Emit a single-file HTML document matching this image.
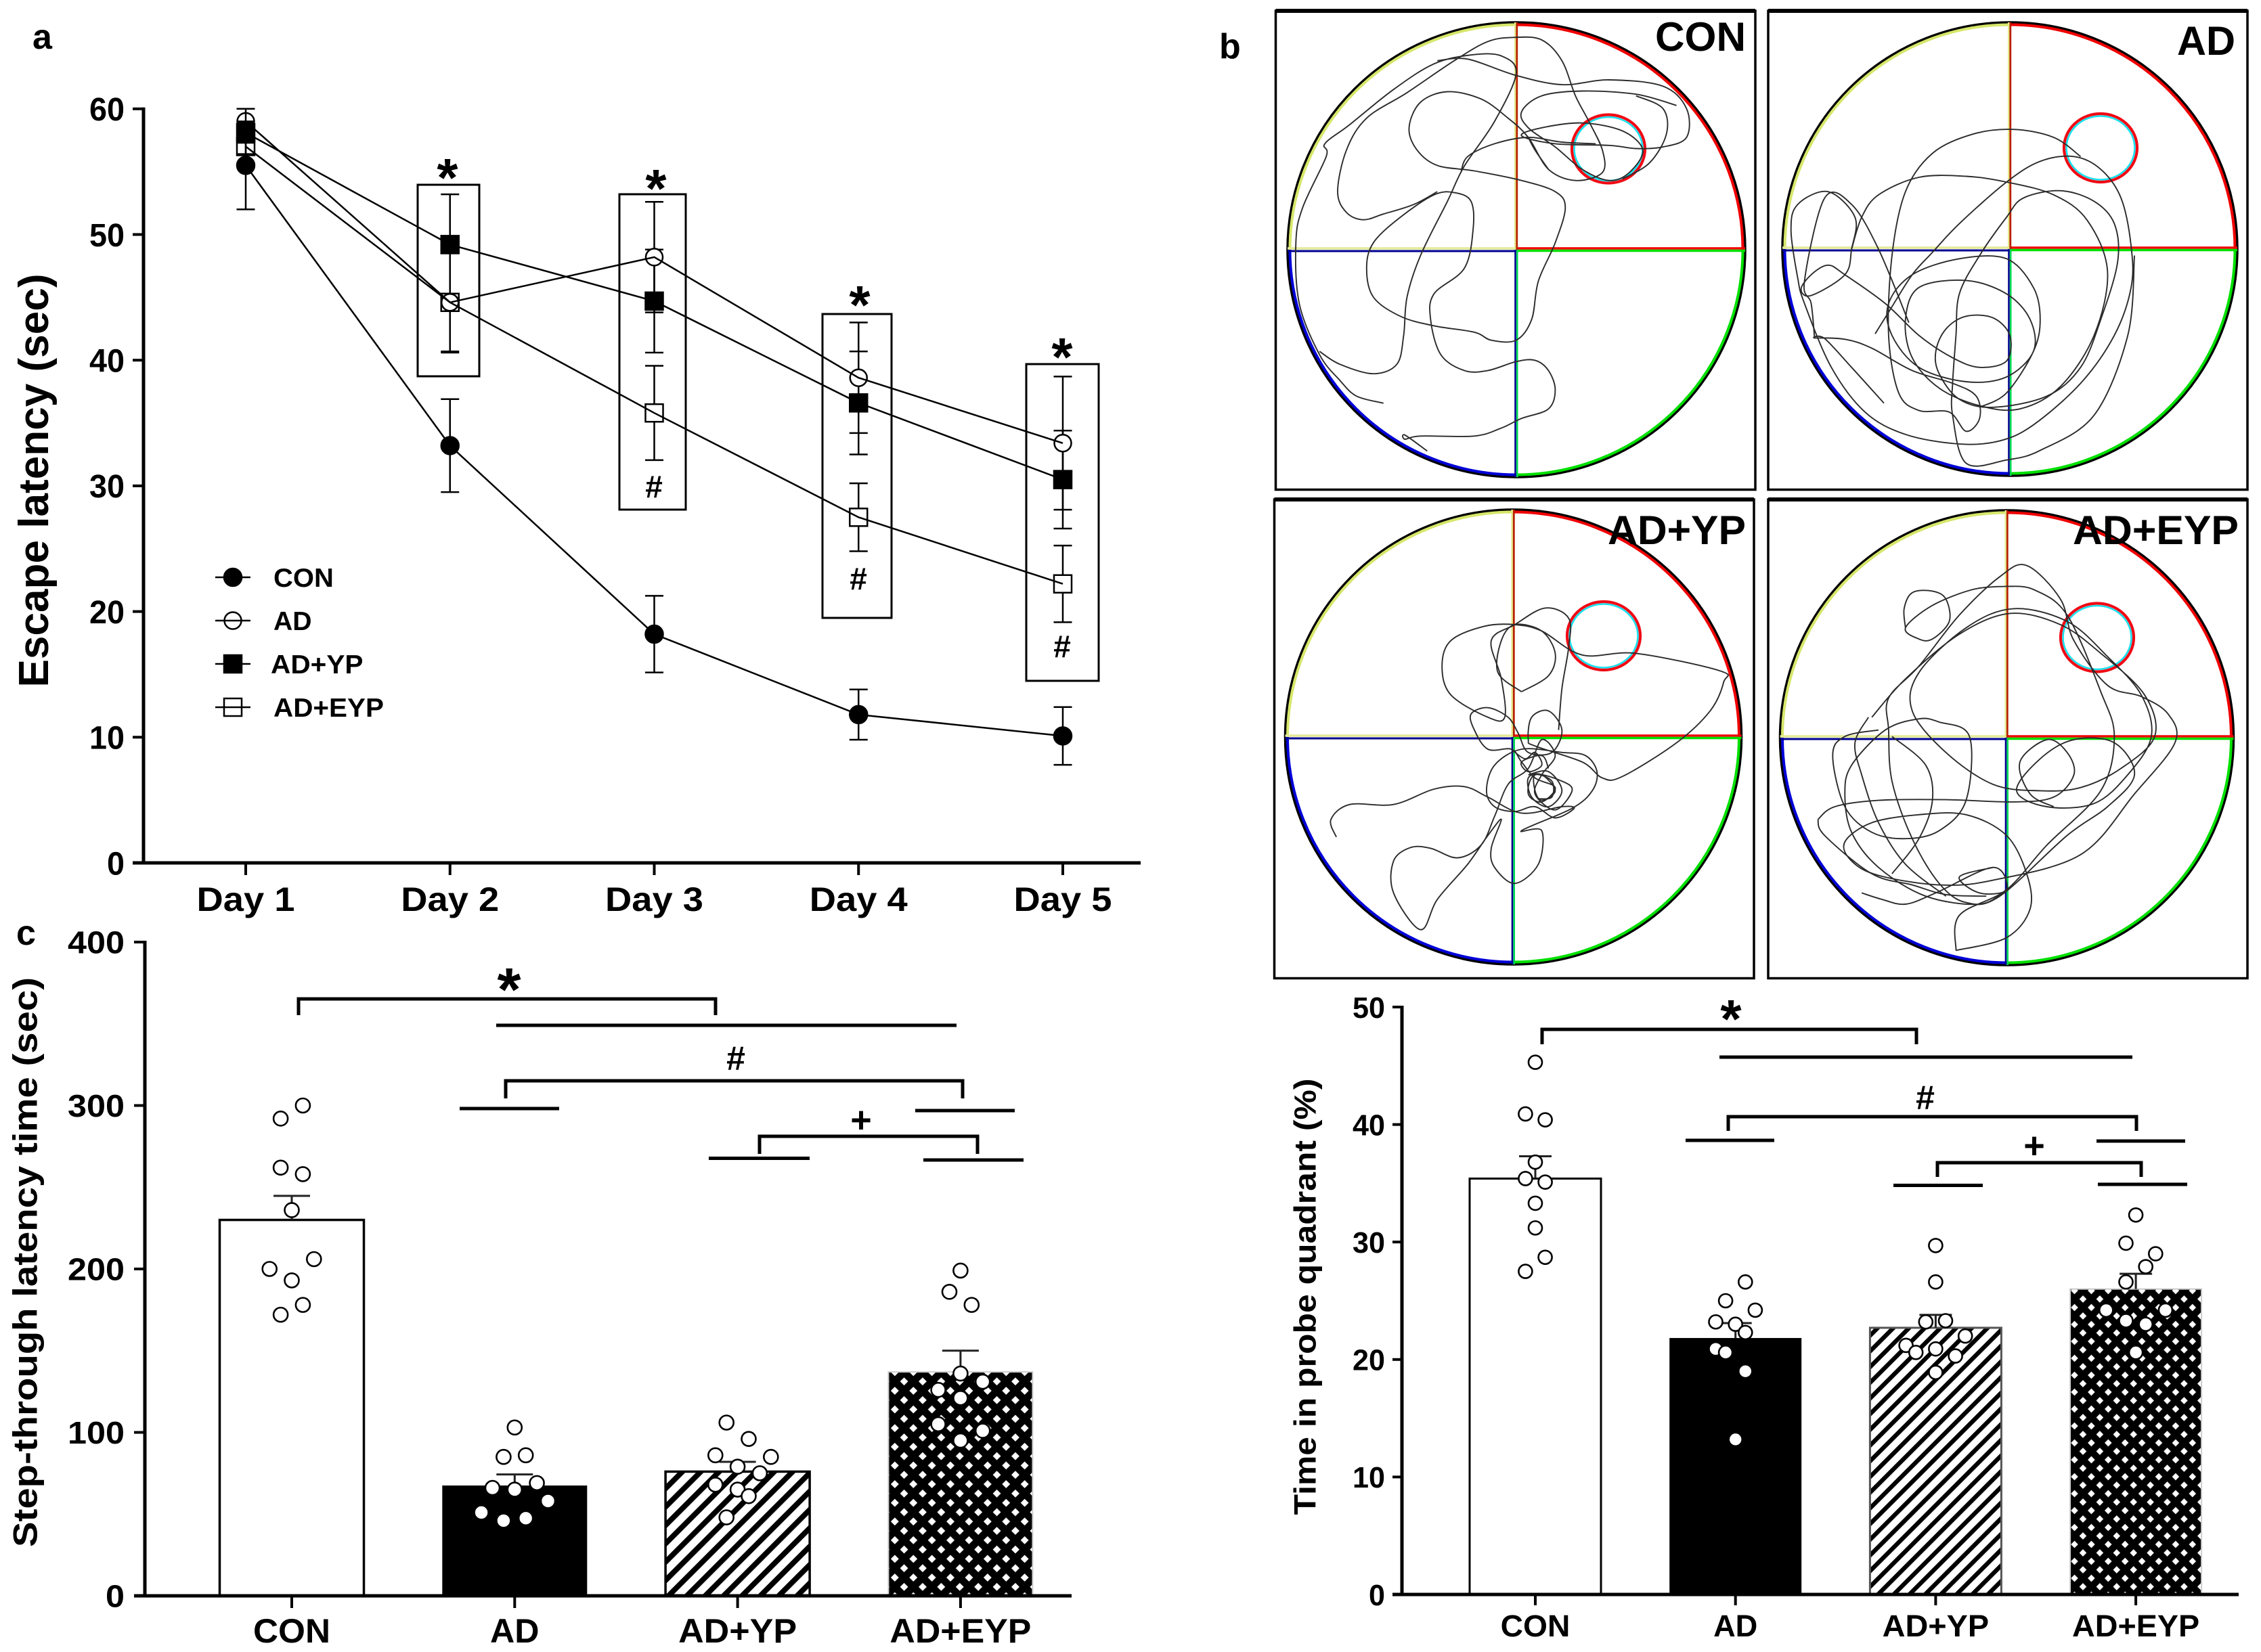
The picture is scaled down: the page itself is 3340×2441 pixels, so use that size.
<!DOCTYPE html>
<html lang="en">
<head>
<meta charset="utf-8">
<title>Behavioural test results: escape latency, swim tracks, step-through latency, probe quadrant time</title>
<style>
html,body{margin:0;padding:0;background:#fff;}
svg{display:block;}
text{font-family:"Liberation Sans",Arial,sans-serif;font-weight:bold;fill:#000;}
</style>
</head>
<body>
<svg id="figure" xmlns="http://www.w3.org/2000/svg" width="3340" height="2441" viewBox="0 0 3340 2441">
<defs>
<pattern id="stripesC" patternUnits="userSpaceOnUse" width="19.2" height="19.2" patternTransform="rotate(45)"><rect width="19.2" height="19.2" fill="#fff"/><rect width="8" height="19.2" fill="#000"/></pattern>
<pattern id="stripesD" patternUnits="userSpaceOnUse" width="16.4" height="16.4" patternTransform="rotate(45)"><rect width="16.4" height="16.4" fill="#fff"/><rect width="6.4" height="16.4" fill="#000"/></pattern>
<pattern id="diamondsC" patternUnits="userSpaceOnUse" width="27.4" height="27.6" patternTransform="translate(1315,5.7)"><rect width="27.4" height="27.6" fill="#000"/><path d="M6.85,1 L12.8,6.9 L6.85,12.8 L0.9,6.9Z M20.55,14.8 L26.5,20.7 L20.55,26.6 L14.6,20.7Z" fill="#fff"/></pattern>
<pattern id="diamondsD" patternUnits="userSpaceOnUse" width="24.9" height="25" patternTransform="translate(3058.3,0.75)"><rect width="24.9" height="25" fill="#000"/><path d="M6.2,0.9 L11.5,6.25 L6.2,11.6 L0.9,6.25Z M18.7,13.4 L24,18.75 L18.7,24.1 L13.4,18.75Z" fill="#fff"/></pattern>
</defs>

<text x="48" y="72" font-size="52">a</text>
<text x="1801" y="86" font-size="52">b</text>
<text x="24" y="1396" font-size="52">c</text>

<text transform="translate(71,710) rotate(-90)" text-anchor="middle" font-size="62" textLength="611" lengthAdjust="spacingAndGlyphs">Escape latency (sec)</text>
<text transform="translate(54.5,1865) rotate(-90)" text-anchor="middle" font-size="50" textLength="842" lengthAdjust="spacingAndGlyphs">Step-through latency time (sec)</text>
<text transform="translate(1943.5,1916) rotate(-90)" text-anchor="middle" font-size="45" textLength="645" lengthAdjust="spacingAndGlyphs">Time in probe quadrant (%)</text>

<g id="latencyChart"></g>
<g id="latencyBoxes" fill="none" stroke="#000" stroke-width="3">
<rect x="617" y="273" width="91" height="283"/>
<rect x="915" y="287" width="98" height="466"/>
<rect x="1215" y="464" width="102" height="449"/>
<rect x="1516" y="538" width="107" height="468"/>
</g>
<g text-anchor="middle">
<text x="661" y="290" font-size="80">*</text>
<text x="969" y="306" font-size="80">*</text>
<text x="1270" y="478" font-size="80">*</text>
<text x="1569" y="555" font-size="80">*</text>
<text x="966" y="735" font-size="46">#</text>
<text x="1268" y="871" font-size="46">#</text>
<text x="1569" y="971" font-size="46">#</text>
</g>
<g id="latencyLegend"></g>

<g id="mazePanels"></g>

<g id="stepChart"></g>
<g fill="none" stroke="#000" stroke-width="5">
<path d="M441,1500 V1476 H1057 V1500"/>
<path d="M733,1515 H1413"/>
<path d="M747,1623 V1597 H1422 V1623"/>
<path d="M679,1638 H826"/>
<path d="M1352,1641 H1499"/>
<path d="M1122,1705 V1679 H1444 V1705"/>
<path d="M1047,1711.5 H1196"/>
<path d="M1364,1714 H1512"/>
</g>
<g text-anchor="middle">
<text x="752" y="1493" font-size="90">*</text>
<text x="1087" y="1581" font-size="50">#</text>
<text x="1272" y="1673" font-size="54">+</text>
</g>

<g id="probeChart"></g>
<g fill="none" stroke="#000" stroke-width="5">
<path d="M2278,1543 V1521 H2831 V1543"/>
<path d="M2540,1562 H3150"/>
<path d="M2553,1671 V1650 H3156 V1671"/>
<path d="M2490,1685 H2621"/>
<path d="M3097,1686 H3228"/>
<path d="M2862,1739 V1718 H3163 V1739"/>
<path d="M2797,1751.5 H2929"/>
<path d="M3099,1750 H3231"/>
</g>
<g text-anchor="middle">
<text x="2557" y="1533" font-size="80">*</text>
<text x="2844" y="1639" font-size="50">#</text>
<text x="3005" y="1711" font-size="54">+</text>
</g>
</svg>

<script>
// ---- Escape latency line chart data ----
const days = ['Day 1', 'Day 2', 'Day 3', 'Day 4', 'Day 5'];
const seriesNames = ['CON', 'AD', 'AD+YP', 'AD+EYP'];
const latencyTicks = [0, 10, 20, 30, 40, 50, 60];
const conMeans = [55.5, 33.2, 18.2, 11.8, 10.1];
const adMeans = [59.0, 44.6, 48.2, 38.6, 33.4];
const ypMeans = [58.1, 49.2, 44.7, 36.6, 30.5];
const eypMeans = [57.0, 44.6, 35.8, 27.5, 22.2];
const conErrs = [3.5, 3.7, 3.05, 2.0, 2.3];
const adErrs = [1.0, 3.9, 4.4, 4.4, 5.3];
const ypErrs = [0.8, 4.0, 4.1, 4.1, 3.9];
const eypErrs = [0.6, 4.0, 3.75, 2.7, 3.05];

// ---- Step-through latency bar chart data ----
const groups = ['CON', 'AD', 'AD+YP', 'AD+EYP'];
const stepTicks = [0, 100, 200, 300, 400];
const stepMeans = [230, 67.3, 76, 137];
const stepErrs = [14.7, 7, 6, 13];
const stepConDots = [300, 292, 262, 258, 236, 206, 200, 193, 178, 172];
const stepConSlots = [1, -1, -1, 1, 0, 2, -2, 0, 1, -1];
const stepAdDots = [103, 85, 86, 69, 66, 65, 58, 51, 47.5, 46];
const stepAdSlots = [0, -1, 1, 2, -2, 0, 3, -3, 1, -1];
const stepYpDots = [106, 96, 86, 85, 79, 75, 68, 65, 61, 48];
const stepYpSlots = [-1, 1, -2, 3, 0, 2, -2, 0, 1, -1];
const stepEypDots = [199, 186, 178, 136, 131, 126, 121, 105, 101, 95];
const stepEypSlots = [0, -1, 1, 0, 2, -2, 0, -2, 2, 0];

// ---- Probe quadrant bar chart data ----
const probeTicks = [0, 10, 20, 30, 40, 50];
const probeMeans = [35.4, 21.8, 22.7, 26.0];
const probeErrs = [1.9, 1.3, 1.1, 1.3];
const probeConDots = [45.3, 40.9, 40.4, 36.8, 35.4, 35.1, 33.3, 31.2, 28.7, 27.5];
const probeConSlots = [0, -1, 1, 0, -1, 1, 0, 0, 1, -1];
const probeAdDots = [26.6, 25.0, 24.2, 23.2, 23.0, 22.3, 20.9, 20.6, 19.0, 13.2];
const probeAdSlots = [1, -1, 2, -2, 0, 1, -2, -1, 1, 0];
const probeYpDots = [29.7, 26.6, 23.3, 23.2, 22.0, 21.2, 20.9, 20.6, 20.3, 18.9];
const probeYpSlots = [0, 0, 1, -1, 3, -3, 0, -2, 2, 0];
const probeEypDots = [32.3, 29.9, 29.0, 27.9, 26.6, 24.2, 24.2, 23.3, 23.0, 20.6];
const probeEypSlots = [0, -1, 2, 1, -1, -3, 3, -1, 1, 0];

// ---- Swim tracks (recorded path samples, arena image units) ----
const tracksCon = [
  [[265,1262],[225,1240],[200,1190],[170,1110],[140,950],[135,760],[145,650],[180,490],[178,450],[215,390],[280,280],[340,200],[395,172],[440,175],[462,230],[430,380],[385,520],[360,630],[320,800],[300,930],[295,1050],[285,1140],[250,1170],[200,1140],[170,1100]],
  [[330,1412],[297,1362],[297,1375],[320,1365],[400,1365],[440,1340],[470,1310],[510,1280],[520,1220],[510,1160],[490,1128],[462,1132],[420,1160],[385,1160],[350,1110],[335,1000],[340,920],[385,840],[398,720],[395,630],[370,603],[340,610],[290,680],[250,760],[240,840],[250,930],[290,990],[340,1020],[400,1040],[425,1065],[462,1065],[485,1000],[495,880],[520,760],[535,650],[520,600],[470,565],[400,535],[345,518],[315,470],[303,400],[320,320],[360,287],[410,310],[450,370],[480,430],[510,530],[550,565],[590,540],[590,470],[570,380],[550,300],[530,190],[500,125],[460,117],[420,130],[370,190],[300,290],[240,370],[210,470],[197,600],[210,665],[235,688],[265,670],[310,640],[345,600]],
  [[345,190],[390,185],[460,235],[530,265],[600,250],[680,270],[715,340],[715,430],[680,460],[640,465],[600,455],[520,450],[470,425],[500,400],[560,385],[620,410],[650,470],[630,540],[600,565],[560,530],[520,460],[480,400],[470,350],[500,300],[560,285],[640,295],[700,330]],
  [[380,540],[390,490],[430,450],[480,430],[530,445],[580,450]],
  [[480,430],[490,470],[510,530]],[[640,300],[680,340],[685,420],[660,510],[620,560]]
];
const tracksAd = [
  [[995,1045],[1020,960],[1050,860],[1080,790],[1120,700],[1190,570],[1240,505],[1290,490],[1330,530],[1360,620],[1375,770],[1375,900],[1350,1050],[1300,1200],[1230,1330],[1180,1380],[1120,1390],[1040,1360],[980,1290],[930,1150],[890,950],[880,870],[870,720],[880,640],[925,600],[965,680],[960,780],[950,860],[900,925],[885,905],[900,860],[925,830],[950,860],[1010,950],[1060,1050],[1110,1120],[1150,1150],[1190,1130],[1195,1050],[1170,995],[1130,990],[1100,1030],[1085,1100],[1090,1170],[1120,1250],[1170,1275],[1250,1240],[1300,1150],[1330,1000],[1355,820],[1350,700],[1320,630],[1270,597],[1215,620],[1190,680],[1150,800],[1120,920],[1115,1050],[1110,1200],[1110,1300],[1130,1450],[1190,1440],[1240,1410],[1320,1300],[1370,1050],[1380,800]],
  [[1008,1262],[960,1150],[920,1060],[905,1058],[950,1062],[990,1090],[1050,1160],[1110,1200],[1145,1240],[1150,1310],[1130,1350],[1105,1290],[1060,1285],[1030,1230],[1015,1050],[1020,800],[1040,600],[1080,480],[1140,420],[1200,405],[1260,430],[1300,490]],
  [[905,1058],[900,950],[890,880],[920,620],[960,640],[1000,780],[1045,1010]],
  [[960,780],[975,680],[1000,610],[1060,555],[1130,552],[1190,570],[1260,610],[1310,690],[1340,850],[1320,1050],[1270,1210],[1210,1280],[1150,1270],[1090,1215],[1050,1120],[1040,1000],[1060,900],[1130,878],[1190,920],[1225,1000],[1230,1100],[1190,1180],[1130,1195],[1060,1150],[1020,1050],[1015,950],[1050,860],[1120,810],[1190,810],[1230,900],[1240,1000],[1230,1100],[1190,1230],[1150,1275]]
];
const tracksYp = [
  [[195,1095],[187,1040],[215,993],[280,993],[340,945],[385,937],[420,970],[470,1020],[530,1000],[548,1005],[520,1035],[490,1000],[460,1015],[430,1000],[418,950],[430,870],[470,820],[530,830],[565,840],[582,890],[575,950],[545,1005],[470,1075],[500,1075],[495,1180],[460,1240],[430,1190],[425,1130],[440,1040],[420,1090],[390,1180],[345,1290],[320,1385],[280,1270],[280,1170],[305,1128],[335,1130],[375,1160],[410,1120],[430,1030],[450,930],[480,880],[500,790],[520,840],[500,900],[490,960],[520,1010],[545,950],[530,920],[490,900],[480,960],[500,985],[520,940],[490,910],[470,860],[455,820],[420,820],[400,760],[395,710],[420,690],[450,720],[465,770],[480,830],[515,830],[530,760],[510,700],[485,720],[480,790],[490,810],[560,860],[590,910],[620,905],[700,800],[750,700],[770,610],[765,575],[640,520],[560,525],[500,450],[460,430],[415,435],[365,480],[352,560],[365,650],[420,720],[445,720],[440,600],[425,480],[460,430],[505,378],[540,410],[540,500],[530,630],[525,760]],
  [[470,640],[510,590],[520,520],[500,450],[460,430],[440,480],[435,580],[470,640]],
  [[480,900],[510,890],[530,950],[510,1000],[485,970],[480,910],[500,900],[520,950],[500,980],[490,950],[490,900],[515,920],[515,970],[495,975]],
  [[455,820],[475,850],[490,830],[500,870],[480,890],[470,860],[500,840],[510,880]]
];
const tracksEyp = [
  [[975,1270],[1005,1290],[1040,1305],[1085,1270],[1170,1190],[1190,1260],[1150,1270],[1120,1220],[1170,1190]],
  [[1115,1450],[1190,1410],[1225,1320],[1220,1210],[1190,1090],[1130,1025],[1060,1025],[990,1050],[950,1110],[960,1170],[1000,1215],[1090,1245],[1170,1230],[1300,1150],[1380,960],[1440,800],[1430,710],[1390,655],[1340,620],[1290,480],[1270,350],[1220,245],[1180,280],[1120,400],[1060,560],[1015,660],[1015,760],[1020,920],[1050,1100],[1090,1240],[1130,1300],[1180,1280],[1280,1090],[1340,1000],[1380,900],[1350,800],[1290,790],[1240,850],[1205,950],[1250,1000],[1320,990],[1370,900],[1405,780],[1390,650],[1340,530],[1280,420],[1200,380],[1130,440],[1060,580],[1050,700],[1100,830],[1170,930],[1240,950],[1300,940],[1360,880],[1410,780],[1395,650],[1330,520],[1270,430],[1195,395],[1120,460],[1040,600],[990,720]],
  [[1190,310],[1140,320],[1080,370],[1040,440],[1060,475],[1080,475],[1105,420],[1100,350],[1080,325],[1050,330],[1038,380],[1040,440]],
  [[1190,310],[1230,320],[1280,400],[1330,640],[1350,780],[1330,950],[1250,1120],[1190,1260],[1120,1340],[1115,1450]],
  [[910,1040],[935,1000],[1000,980],[1100,978],[1200,985],[1260,970],[1290,900],[1280,830],[1250,790],[1210,860],[1225,960],[1260,1000]],
  [[910,1040],[920,1090],[990,1210],[1050,1245],[1100,1275],[1160,1280]],
  [[1000,760],[950,780],[932,840],[950,1000],[990,1080],[1040,1100],[1090,1075],[1130,980],[1135,780],[1090,735],[1060,725],[1010,760],[960,870],[950,960],[960,1080],[1000,1190],[1070,1280],[1150,1305],[1190,1260]],
  [[985,720],[965,800],[975,900],[1000,1050],[1040,1180],[1100,1280]],
  [[1020,780],[1070,870],[1080,980],[1060,1100],[1020,1210]]
];

// ---- Drawing helpers ----
const SVG_NS = 'http://www.w3.org/2000/svg';
const labelWidthEm = { 'CON': 2.28, 'AD': 1.45, 'AD+YP': 3.5, 'AD+EYP': 4.18, 'Day 1': 2.9, 'Day 2': 2.9, 'Day 3': 2.9, 'Day 4': 2.9, 'Day 5': 2.9 };

function add(parent, tag, attrs, text) {
  const node = document.createElementNS(SVG_NS, tag);
  for (const key in attrs) node.setAttribute(key, attrs[key]);
  if (text !== undefined) node.textContent = text;
  parent.appendChild(node);
  return node;
}
function kebab(s) {
  return String(s).toLowerCase().replace(/[^a-z0-9]+/g, '-');
}
function smoothPath(points, mapX, mapY) {
  const p = points.map(function (q) { return [mapX(q[0]), mapY(q[1])]; });
  let d = 'M' + p[0][0].toFixed(1) + ',' + p[0][1].toFixed(1);
  for (let i = 0; i < p.length - 1; i++) {
    const a = p[Math.max(i - 1, 0)], b = p[i], c = p[i + 1], e = p[Math.min(i + 2, p.length - 1)];
    d += ' C' + (b[0] + (c[0] - a[0]) / 6).toFixed(1) + ',' + (b[1] + (c[1] - a[1]) / 6).toFixed(1) +
      ' ' + (c[0] - (e[0] - b[0]) / 6).toFixed(1) + ',' + (c[1] - (e[1] - b[1]) / 6).toFixed(1) +
      ' ' + c[0].toFixed(1) + ',' + c[1].toFixed(1);
  }
  return d;
}
function drawMarker(parent, kind, x, y, fill, stroke, label) {
  let mark;
  if (kind === 'circle') {
    mark = add(parent, 'circle', { cx: x, cy: y, r: fill === '#000' ? 13 : 12.5, fill: fill, stroke: stroke, 'stroke-width': 2.5 });
  } else {
    mark = add(parent, 'rect', { x: x - 13, y: y - 13, width: 26, height: 26, fill: fill, stroke: stroke, 'stroke-width': 2.5 });
  }
  
  
  return mark;
}
function drawAxes(parent, cfg) {
  const yAxis = add(parent, 'line', { x1: cfg.x0, x2: cfg.x0, y1: cfg.y(cfg.ticks[cfg.ticks.length - 1]) - 2, y2: cfg.y(0) + 2, stroke: '#000', 'stroke-width': 5 });
  
  
  const xAxis = add(parent, 'line', { x1: cfg.x0 - cfg.tickLen, x2: cfg.x1, y1: cfg.y(0), y2: cfg.y(0), stroke: '#000', 'stroke-width': 5 });
  
  
  cfg.ticks.forEach(function (t) {
    const mark = add(parent, 'line', { x1: cfg.x0 - cfg.tickLen, x2: cfg.x0, y1: cfg.y(t), y2: cfg.y(t), stroke: '#000', 'stroke-width': 4 });
    
    
    const label = add(parent, 'text', { x: cfg.labelRight, y: cfg.y(t) + cfg.fontY * 0.36, 'text-anchor': 'end', 'font-size': cfg.fontY, textLength: String(t).length * cfg.digitW, lengthAdjust: 'spacingAndGlyphs' }, String(t));
    
    
  });
  cfg.categories.forEach(function (c, i) {
    const mark = add(parent, 'line', { x1: cfg.x(i), x2: cfg.x(i), y1: cfg.y(0), y2: cfg.y(0) + cfg.tickLen + 2, stroke: '#000', 'stroke-width': 4 });
    
    
    const attrs = { x: cfg.x(i), y: cfg.labelBase, 'text-anchor': 'middle', 'font-size': cfg.fontX };
    if (labelWidthEm[c]) {
      attrs.textLength = labelWidthEm[c] * cfg.fontX;
      attrs.lengthAdjust = 'spacingAndGlyphs';
    }
    const label = add(parent, 'text', attrs, c);
    
    
  });
}

// ---- Panel a: escape latency ----
(function () {
  const root = document.getElementById('latencyChart');
  const x = function (i) { return 363 + i * 301.75; };
  const y = function (v) { return 1275 - v * 18.57; };
  const allMeans = [conMeans, adMeans, ypMeans, eypMeans];
  const allErrs = [conErrs, adErrs, ypErrs, eypErrs];
  const kinds = ['circle', 'circle', 'square', 'square'];
  const fills = ['#000', 'none', '#000', 'none'];
  drawAxes(root, { x0: 212, x1: 1685, tickLen: 16, x: x, y: y, ticks: latencyTicks, categories: days, labelRight: 184, fontY: 48, digitW: 26, labelBase: 1346, fontX: 50 });

  function drawError(parent, s, i) {
    const name = seriesNames[s];
    const m = allMeans[s][i], e = allErrs[s][i];
    const bar = add(parent, 'path', { d: 'M' + (x(i) - 13.5) + ',' + y(m + e) + ' H' + (x(i) + 13.5) + ' M' + x(i) + ',' + y(m + e) + ' V' + y(m - e) + ' M' + (x(i) - 13.5) + ',' + y(m - e) + ' H' + (x(i) + 13.5), fill: 'none', stroke: '#000', 'stroke-width': 2.5 });
    
    
  }
  // later days' error bars sit behind the open marker backgrounds
  seriesNames.forEach(function (name, s) {
    allMeans[s].forEach(function (m, i) {
      if (i > 0) drawError(root, s, i);
    });
  });
  seriesNames.forEach(function (name, s) {
    if (fills[s] !== 'none') return;
    allMeans[s].forEach(function (m, i) {
      drawMarker(root, kinds[s], x(i), y(m), '#fff', 'none', 'marker-background-' + kebab(name) + '-' + kebab(days[i]));
    });
  });
  seriesNames.forEach(function (name, s) {
    drawError(root, s, 0);
  });
  seriesNames.forEach(function (name, s) {
    const points = allMeans[s].map(function (m, i) { return x(i).toFixed(1) + ',' + y(m).toFixed(1); }).join(' ');
    const line = add(root, 'polyline', { points: points, fill: 'none', stroke: '#000', 'stroke-width': 2.5 });
    
    
  });
  seriesNames.forEach(function (name, s) {
    allMeans[s].forEach(function (m, i) {
      drawMarker(root, kinds[s], x(i), y(m), fills[s], '#000', 'point-' + kebab(name) + '-' + kebab(days[i]));
    });
  });

  const legend = document.getElementById('latencyLegend');
  seriesNames.forEach(function (name, s) {
    const rowY = 853 + s * 64;
    const key = add(legend, 'line', { x1: 318, x2: 370, y1: rowY, y2: rowY, stroke: '#000', 'stroke-width': 2.5 });
    
    
    drawMarker(legend, kinds[s], 344, rowY, fills[s], '#000', 'legend-marker-' + kebab(name));
    const label = add(legend, 'text', { x: s === 2 ? 400 : 404, y: rowY + 14, 'font-size': 39, textLength: labelWidthEm[name] * 39, lengthAdjust: 'spacingAndGlyphs' }, name);
    
    
  });
})();

// ---- Panel b: swim tracks ----
(function () {
  const root = document.getElementById('mazePanels');
  const panels = [
    { name: 'CON', fx: 1884.5, fy: 16, fw: 708.5, fh: 707.5, cx: 2240, cy: 369, rx: 338, ry: 336, px: 2376, py: 220, tracks: tracksCon, oy: 0, tx: 2445, ty: 75, tw: 134 },
    { name: 'AD', fx: 2612, fy: 16, fw: 708, fh: 707.5, cx: 2969, cy: 368, rx: 336, ry: 335, px: 3103, py: 218.5, tracks: tracksAd, oy: 0, tx: 3216, ty: 81, tw: 86 },
    { name: 'AD+YP', fx: 1882.5, fy: 738, fw: 708.5, fh: 707.5, cx: 2235.5, cy: 1089, rx: 337, ry: 336, px: 2369, py: 939.5, tracks: tracksYp, oy: 720, tx: 2375, ty: 804, tw: 204 },
    { name: 'AD+EYP', fx: 2612, fy: 738, fw: 708, fh: 707.5, cx: 2964.5, cy: 1090, rx: 335, ry: 336, px: 3098, py: 942, tracks: tracksEyp, oy: 720, tx: 3062, ty: 804, tw: 245 }
  ];
  const quadrants = [
    { id: 'upper-left', col: '#d6e66a', sx: -1, sy: -1 },
    { id: 'upper-right', col: '#f00000', sx: 1, sy: -1 },
    { id: 'lower-right', col: '#00e000', sx: 1, sy: 1 },
    { id: 'lower-left', col: '#0000d8', sx: -1, sy: 1 }
  ];
  panels.forEach(function (p) {
    const slug = kebab(p.name);
    const g = add(root, 'g', {});
    
    
    const frame = add(g, 'rect', { x: p.fx, y: p.fy, width: p.fw, height: p.fh, fill: '#fff', stroke: '#000', 'stroke-width': 3.5 });
    
    
    const topEdge = add(g, 'line', { x1: p.fx, x2: p.fx + p.fw, y1: p.fy, y2: p.fy, stroke: '#000', 'stroke-width': 6 });
    
    
    const rim = add(g, 'ellipse', { cx: p.cx, cy: p.cy, rx: p.rx, ry: p.ry, fill: 'none', stroke: '#000', 'stroke-width': 3.5 });
    
    
    quadrants.forEach(function (q) {
      const r1 = p.rx - 3.5, r2 = p.ry - 3.5;
      const sweep = q.sx * q.sy > 0 ? 1 : 0;
      const hz = p.cx + q.sx * r1, vt = p.cy + q.sy * r2;
      const arc = add(g, 'path', { d: 'M' + hz + ',' + p.cy + ' A' + r1 + ',' + r2 + ' 0 0 ' + sweep + ' ' + p.cx + ',' + vt, fill: 'none', stroke: q.col, 'stroke-width': 4 });
      
      
    });
    const armData = [
      { n: 'upper-left-arm', d: 'M' + (p.cx - p.rx) + ',' + (p.cy - 2) + ' H' + p.cx, c: '#e4ea98', w: 3.5 },
      { n: 'upper-right-arm', d: 'M' + p.cx + ',' + (p.cy - 2) + ' H' + (p.cx + p.rx), c: '#f00000', w: 3.5 },
      { n: 'lower-right-arm', d: 'M' + p.cx + ',' + (p.cy + 1.5) + ' H' + (p.cx + p.rx), c: '#00e000', w: 3.5 },
      { n: 'lower-left-arm', d: 'M' + (p.cx - p.rx) + ',' + (p.cy + 2) + ' H' + p.cx, c: '#000090', w: 3 },
      { n: 'top-arm-left', d: 'M' + (p.cx - 1.8) + ',' + (p.cy - p.ry) + ' V' + p.cy, c: '#e4ea8c', w: 2.5 },
      { n: 'top-arm-right', d: 'M' + (p.cx + 0.8) + ',' + (p.cy - p.ry) + ' V' + p.cy, c: '#b82000', w: 2.8 },
      { n: 'bottom-arm-left', d: 'M' + (p.cx - 1.5) + ',' + p.cy + ' V' + (p.cy + p.ry) , c: '#000090', w: 2.6 },
      { n: 'bottom-arm-right', d: 'M' + (p.cx + 1.2) + ',' + p.cy + ' V' + (p.cy + p.ry), c: '#00d850', w: 2.6 }
    ];
    armData.forEach(function (a) {
      const arm = add(g, 'path', { d: a.d, fill: 'none', stroke: a.c, 'stroke-width': a.w });
      
      
    });
    const platform = add(g, 'ellipse', { cx: p.px, cy: p.py, rx: 54, ry: 50.5, fill: '#fff', stroke: '#f00a14', 'stroke-width': 4.2 });
    
    
    const inner = add(g, 'ellipse', { cx: p.px, cy: p.py, rx: 50.5, ry: 47, fill: 'none', stroke: '#19e0ee', 'stroke-width': 2.6 });
    
    
    const mapX = function (v) { return 1780 + v * 0.995; };
    const mapY = function (v) { return p.oy + v * 0.472; };
    p.tracks.forEach(function (t, i) {
      const track = add(g, 'path', { d: smoothPath(t, mapX, mapY), fill: 'none', stroke: '#2b2b2b', 'stroke-width': 1.9 });
      
      
    });
    const title = add(g, 'text', { x: p.tx, y: p.ty, 'font-size': 60, textLength: p.tw, lengthAdjust: 'spacingAndGlyphs' }, p.name);
    
    
  });
})();

// ---- Panels c and d: bar charts ----
function drawBarChart(rootId, cfg) {
  const root = document.getElementById(rootId);
  groups.forEach(function (name, i) {
    const slug = kebab(name);
    const cx = cfg.x(i);
    const top = cfg.y(cfg.means[i]);
    const bar = add(root, 'rect', { x: cx - cfg.barW / 2, y: top, width: cfg.barW, height: cfg.y(0) - top, fill: cfg.fills[i], stroke: cfg.strokes[i], 'stroke-width': cfg.strokeW[i] });
    
    
    const errTop = cfg.y(cfg.means[i] + cfg.errs[i]);
    const err = add(root, 'path', { d: 'M' + (cx - cfg.capW) + ',' + errTop + ' H' + (cx + cfg.capW) + ' M' + cx + ',' + errTop + ' V' + top, fill: 'none', stroke: '#222', 'stroke-width': 3 });
    
    
    cfg.dots[i].forEach(function (v, k) {
      const dot = add(root, 'circle', { cx: cx + cfg.slots[i][k] * cfg.slotW, cy: cfg.y(v), r: cfg.dotR, fill: '#fff', stroke: '#000', 'stroke-width': 2.6 });
      
      
    });
  });
  drawAxes(root, cfg);
}
drawBarChart('stepChart', {
  x0: 214, x1: 1583, tickLen: 16,
  x: function (i) { return 431 + i * 329.3; },
  y: function (v) { return 2358 - v * 2.415; },
  ticks: stepTicks, categories: groups,
  labelRight: 184, fontY: 46, digitW: 28, labelBase: 2427, fontX: 50,
  means: stepMeans, errs: stepErrs,
  dots: [stepConDots, stepAdDots, stepYpDots, stepEypDots],
  slots: [stepConSlots, stepAdSlots, stepYpSlots, stepEypSlots],
  fills: ['#fff', '#000', 'url(#stripesC)', 'url(#diamondsC)'],
  strokes: ['#000', '#000', '#000', '#ccc'],
  strokeW: [3.5, 1, 3.5, 2],
  barW: 213, capW: 27, slotW: 16.4, dotR: 10.5
});
drawBarChart('probeChart', {
  x0: 2071, x1: 3307, tickLen: 14,
  x: function (i) { return 2268 + i * 295.7; },
  y: function (v) { return 2356 - v * 17.36; },
  ticks: probeTicks, categories: groups,
  labelRight: 2046, fontY: 44, digitW: 24, labelBase: 2418, fontX: 45,
  means: probeMeans, errs: probeErrs,
  dots: [probeConDots, probeAdDots, probeYpDots, probeEypDots],
  slots: [probeConSlots, probeAdSlots, probeYpSlots, probeEypSlots],
  fills: ['#fff', '#000', 'url(#stripesD)', 'url(#diamondsD)'],
  strokes: ['#000', '#000', '#555', '#ccc'],
  strokeW: [3, 1, 3, 2],
  barW: 194, capW: 24, slotW: 14.6, dotR: 10
});
</script>
</body>
</html>
